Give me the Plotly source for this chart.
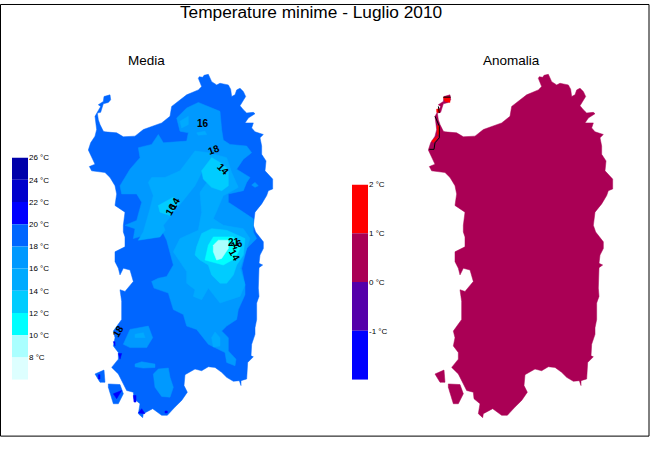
"""Temperature minime - Luglio 2010: media and anomaly maps over Sardinia."""
import plotly.graph_objects as go

W, H = 650, 450

# map coordinates are grid units of the raster (3 units per screen pixel)
coast_x = [355, 358, 368, 372, 385, 390, 395, 410, 420, 430, 445, 452, 455, 465, 470, 480, 490, 497, 490, 480,
           490, 500, 520, 525, 505, 495, 520, 515, 525, 535, 550, 540, 545, 545, 558, 555, 578, 578, 565, 560,
           545, 525, 520, 527, 550, 550, 540, 537, 548, 537, 535, 537, 530, 530, 525, 525, 515, 513, 520, 503,
           500, 483, 483, 478, 460, 440, 425, 405, 385, 365, 345, 315, 312, 322, 305, 285, 262, 245, 218, 190,
           188, 175, 180, 162, 160, 140, 135, 115, 95, 115, 115, 100, 105, 100, 125, 125, 120, 135, 160, 150,
           130, 120, 115, 105, 105, 135, 135, 130, 130, 135, 105, 110, 105, 90, 75, 35, 28, 45, 25, 32,
           45, 50, 45, 50, 62, 55, 70, 72, 90, 92, 85, 70, 65, 62, 52, 55, 60, 70, 75, 110,
           130, 165, 190, 245, 270, 275, 320, 355, 365]
coast_y = [45, 40, 42, 36, 33, 45, 55, 65, 60, 62, 65, 78, 100, 95, 80, 75, 85, 100, 112, 128,
           140, 150, 148, 152, 165, 180, 180, 195, 207, 210, 215, 225, 250, 275, 295, 325, 350, 380, 385, 400,
           425, 450, 490, 510, 540, 560, 580, 605, 610, 618, 680, 705, 725, 775, 800, 820, 850, 885, 888, 905,
           955, 960, 975, 960, 962, 950, 935, 920, 918, 930, 925, 942, 975, 995, 1020, 1040, 1065, 1065, 1045, 1060,
           1072, 1060, 1030, 1015, 995, 990, 980, 940, 920, 895, 875, 855, 830, 810, 775, 720, 685, 690, 660, 625,
           620, 640, 620, 600, 570, 555, 525, 510, 490, 450, 430, 395, 370, 345, 330, 325, 312, 305, 262, 240,
           220, 200, 160, 150, 130, 125, 115, 100, 95, 110, 118, 122, 135, 148, 150, 170, 185, 205, 207, 210,
           222, 220, 200, 180, 160, 130, 95, 80, 70]
antioco_x = [85, 120, 130, 115, 100, 85]
antioco_y = [970, 972, 1000, 1030, 1030, 980]
piccola_x = [45, 72, 75, 60]
piccola_y = [940, 928, 965, 965]

# temperature bands, each one a (x, y) contour polygon
band_16_18 = [
    ([290, 320, 355, 420, 425, 430, 450, 500, 515, 490, 470, 510, 500, 490, 445, 445, 475, 520, 520, 530, 500, 485,
      495, 495, 475, 470, 440, 425, 445, 445, 468, 465, 440, 435, 415, 385, 350, 320, 310, 280, 265, 222, 215, 235,
      260, 280, 260, 250, 245, 160, 165, 135, 170, 185, 170, 125, 120, 150, 180, 175, 215, 235, 250, 320, 325, 300],
     [165, 135, 118, 145, 200, 232, 245, 250, 270, 290, 320, 345, 360, 385, 395, 420, 440, 470, 510, 530, 560, 620,
      670, 700, 745, 775, 795, 810, 830, 870, 895, 915, 905, 875, 865, 850, 805, 795, 760, 745, 695, 680, 660, 650,
      645, 610, 535, 515, 505, 530, 500, 490, 475, 420, 395, 395, 370, 320, 285, 255, 245, 215, 240, 235, 210, 205]),
    ([130, 150, 205, 218, 200, 150], [850, 805, 795, 830, 860, 860]),
    ([165, 185, 225, 225, 190, 165], [910, 903, 910, 920, 922, 918]),
    ([220, 235, 265, 270, 280, 270, 245, 225], [940, 925, 922, 950, 980, 1010, 1008, 980]),
    ([515, 525, 535, 525], [368, 360, 370, 375]),
]
band_14_16 = [
    ([300, 325, 325, 305], [175, 160, 185, 195]),
    ([350, 375, 380, 355], [210, 205, 215, 217]),
    ([205, 215, 255, 300, 345, 385, 395, 365, 345, 250, 255, 240, 175, 190, 210, 220],
     [360, 345, 345, 325, 265, 270, 290, 330, 370, 490, 505, 525, 535, 510, 440, 400]),
    ([385, 440, 455, 475, 440, 430, 400, 430, 490, 510, 500, 480, 495, 480, 420, 385, 365, 340, 345, 320, 320, 280,
      300, 355, 365, 360, 395],
     [270, 285, 330, 375, 395, 400, 470, 490, 500, 530, 560, 620, 670, 705, 725, 680, 715, 705, 685, 665, 630, 570,
      530, 505, 450, 390, 340]),
    ([165, 190, 195, 165], [820, 815, 830, 830]),
    ([395, 405, 420, 420, 400], [830, 813, 830, 855, 858]),
]
band_12_14 = [
    ([365, 395, 420, 445, 445, 425, 395, 370], [325, 285, 300, 320, 370, 385, 375, 350]),
    ([235, 280, 300, 270, 240], [430, 405, 420, 460, 450]),
    ([345, 350, 365, 395, 440, 495, 490, 470, 460, 440, 420, 395, 385, 360],
     [580, 555, 515, 500, 505, 530, 580, 610, 640, 665, 665, 640, 610, 595]),
]
band_10_12 = [([375, 385, 400, 460, 480, 465, 430], [595, 550, 525, 525, 560, 590, 610])]
band_8_10 = [([400, 415, 445, 445, 425, 410, 400], [550, 535, 535, 560, 590, 595, 570])]
band_20_22 = [
    ([100, 105, 105], [842, 842, 855]),
    ([115, 125, 120], [878, 878, 895]),
    ([100, 125, 110], [1000, 990, 1015]),
    ([160, 168, 168, 162], [1005, 1005, 1025, 1025]),
    ([175, 185, 195], [1058, 1045, 1060]),
    ([255, 262, 262, 255], [1052, 1052, 1058, 1058]),
    ([55, 60, 60, 55], [942, 942, 955, 955]),
]

# anomaly map: warmer bits on the north-west coast and the contour over them
anom_hot = [
    ([70, 90, 90, 75], [102, 102, 118, 115]),
    ([50, 58, 58, 50], [138, 138, 148, 148]),
    ([52, 58, 58, 52], [188, 188, 215, 215]),
    ([35, 55, 50, 40], [235, 218, 228, 240]),
]
anom_contour = [
    ([70, 92], [102, 102]),
    ([55, 58], [130, 150]),
    ([45, 58, 58, 45, 42, 28], [160, 190, 225, 240, 260, 260]),
]

# contour labels: x, y, text, angle
media_labels = [
    (368, 182, "16", 0), (403, 260, "18", -20), (430, 322, "14", 45), (272, 442, "16", -60), (284, 424, "14", -60),
    (462, 542, "21", 0), (470, 548, "16", -20), (465, 580, "14", 60), (113, 810, "18", -60),
]

media_levels = [26, 24, 22, 20, 18, 16, 14, 12, 10, 8]
media_colors = ["#0000aa", "#0000cc", "#0000ff", "#0066ff", "#0099ff",
                "#00aaff", "#00ccff", "#00ffff", "#aaffff", "#ddffff"]
anom_levels = [2, 1, 0, -1]
anom_colors = ["#ff0000", "#aa0055", "#5500aa", "#0000ff"]

MEDIA_BASE = "#0066ff"
ANOM_BASE = "#aa0055"


def add_polygons(fig, polygons, color, xaxis, yaxis):
    for xs, ys in polygons:
        fig.add_trace(go.Scatter(x=xs + xs[:1], y=ys + ys[:1], mode="lines", fill="toself", fillcolor=color,
                                 line=dict(color=color, width=0.5), hoverinfo="skip", xaxis=xaxis, yaxis=yaxis))


def add_colorbar(fig, levels, colors, xaxis, yaxis):
    # every box spans one level step downward
    step = levels[0] - levels[1]
    fig.add_trace(go.Bar(x=[0] * len(levels), y=[step] * len(levels), base=[v - step for v in levels],
                         width=1, marker=dict(color=colors, line=dict(width=0)), hoverinfo="skip",
                         xaxis=xaxis, yaxis=yaxis))


def px_x(a, b):
    return [a / W, b / W]


def px_y(a, b):
    return [1 - b / H, 1 - a / H]


land = [(coast_x, coast_y), (antioco_x, antioco_y), (piccola_x, piccola_y)]

fig = go.Figure()

# media map
add_polygons(fig, land, MEDIA_BASE, "x", "y")
add_polygons(fig, band_16_18, media_colors[4], "x", "y")
add_polygons(fig, band_14_16, media_colors[5], "x", "y")
add_polygons(fig, band_12_14, media_colors[6], "x", "y")
add_polygons(fig, band_10_12, media_colors[7], "x", "y")
add_polygons(fig, band_8_10, media_colors[8], "x", "y")
add_polygons(fig, band_20_22, media_colors[2], "x", "y")

# anomaly map
add_polygons(fig, land, ANOM_BASE, "x2", "y2")
add_polygons(fig, anom_hot, anom_colors[0], "x2", "y2")
for xs, ys in anom_contour:
    fig.add_trace(go.Scatter(x=xs, y=ys, mode="lines", line=dict(color="black", width=1),
                             hoverinfo="skip", xaxis="x2", yaxis="y2"))

add_colorbar(fig, media_levels, media_colors, "x3", "y3")
add_colorbar(fig, anom_levels, anom_colors, "x4", "y4")

annotations = [
    dict(text="Media", x=146 / W, y=1 - 57 / H, xref="paper", yref="paper"),
    dict(text="Anomalia", x=511 / W, y=1 - 57 / H, xref="paper", yref="paper"),
]
for a in annotations:
    a.update(showarrow=False, xanchor="center", yanchor="middle",
             font=dict(family="Liberation Sans", size=13.5, color="black"))
for x, y, text, angle in media_labels:
    annotations.append(dict(text=f"<b>{text}</b>", x=x, y=y, xref="x", yref="y", textangle=angle, showarrow=False,
                            xanchor="center", yanchor="middle",
                            font=dict(family="Liberation Sans", size=10, color="black")))

hidden = dict(visible=False, fixedrange=True)
map_x_range = [-60, 640]
map_y_range = [1110, -30]

fig.update_layout(
    width=W,
    height=H,
    margin=dict(l=0, r=0, t=0, b=0),
    paper_bgcolor="white",
    plot_bgcolor="white",
    showlegend=False,
    barmode="overlay",
    title=dict(text="Temperature minime - Luglio 2010", x=311 / W, xanchor="center", y=1 - 12 / H, yanchor="middle",
               font=dict(family="Liberation Sans", size=17.3, color="black")),
    xaxis=dict(domain=px_x(60, 293.33), range=map_x_range, **hidden),
    yaxis=dict(domain=px_y(50, 430), range=map_y_range, **hidden),
    xaxis2=dict(domain=px_x(400, 633.33), range=map_x_range, **hidden),
    yaxis2=dict(domain=px_y(50, 430), range=map_y_range, **hidden),
    xaxis3=dict(domain=px_x(12, 28), range=[-0.5, 0.5], **hidden),
    yaxis3=dict(domain=px_y(155, 379), range=[6, 26], anchor="x3", side="right", tickvals=media_levels,
                ticktext=[f"{v} °C" for v in media_levels], showgrid=False, zeroline=False, showline=False,
                ticks="", fixedrange=True, tickfont=dict(family="Liberation Sans", size=8, color="black")),
    xaxis4=dict(domain=px_x(352, 368), range=[-0.5, 0.5], **hidden),
    yaxis4=dict(domain=px_y(182, 379), range=[-2, 2], anchor="x4", side="right", tickvals=anom_levels,
                ticktext=[f"{v} °C" for v in anom_levels], showgrid=False, zeroline=False, showline=False,
                ticks="", fixedrange=True, tickfont=dict(family="Liberation Sans", size=8, color="black")),
    annotations=annotations,
    shapes=[dict(type="rect", xref="paper", yref="paper", x0=0.5 / W, x1=649 / W, y0=1 - 436 / H, y1=1 - 0.5 / H,
                 line=dict(color="black", width=1), fillcolor="rgba(0,0,0,0)", layer="below")],
)

# the page has a default body margin that would push the picture off its frame
fig.write_html("out.html", config={"displayModeBar": False}, post_script="document.body.style.margin = '0';")
